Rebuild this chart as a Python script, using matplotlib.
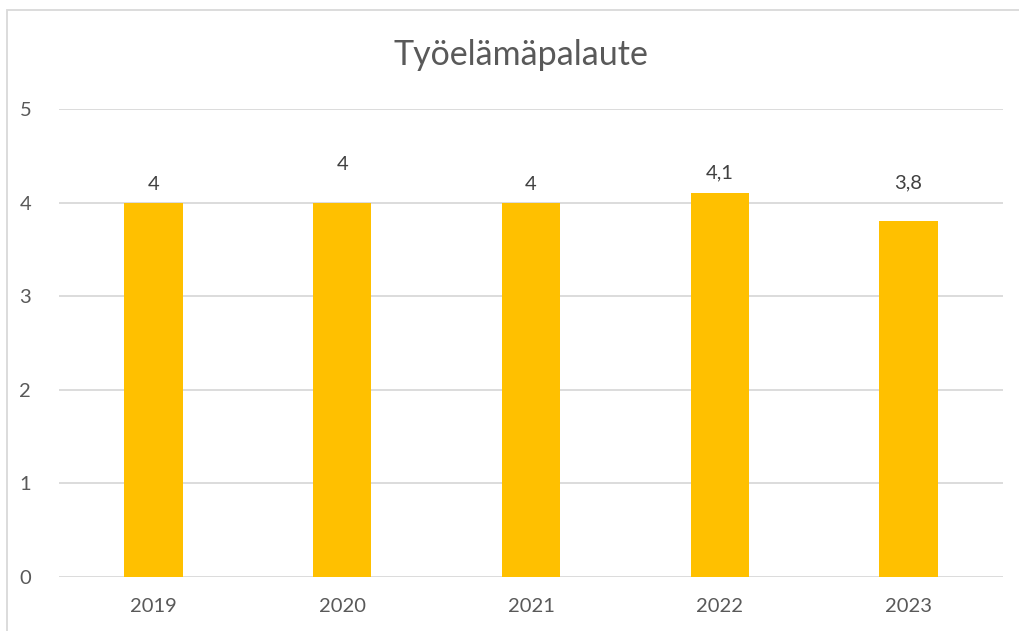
import matplotlib
matplotlib.use("Agg")
import matplotlib.pyplot as plt
from matplotlib.patches import Rectangle

years = ["2019", "2020", "2021", "2022", "2023"]
values = [4.0, 4.0, 4.0, 4.1, 3.8]
value_labels = ["4", "4", "4", "4,1", "3,8"]
label_offsets_px = [18, 38, 18, 20, 38]
yticks = [0, 1, 2, 3, 4, 5]

plt.rcParams['font.family'] = ['Lato', 'DejaVu Sans']
text_color = "#595959"
grid_color = "#D9D9D9"

fig = plt.figure(figsize=(10.19, 6.31), dpi=100)
W, H = 1019, 631
ax = fig.add_axes([59 / W, 1 - 577 / H, (1003 - 59) / W, (577 - 109) / H])

x = list(range(len(years)))
ax.bar(x, values, width=0.31, color="#FFC000", zorder=3)
ax.set_xlim(-0.5, len(years) - 0.5)
ax.set_ylim(0, 5)
ax.set_yticks(yticks)
ax.set_yticklabels([str(t) for t in yticks])
ax.set_xticks(x)
ax.set_xticklabels(years)
ax.grid(axis="y", color=grid_color, linewidth=1.3, zorder=0)
for s in ax.spines.values():
    s.set_visible(False)
ax.tick_params(length=0, labelsize=14.5, colors=text_color)
ax.tick_params(axis="y", pad=20)
ax.tick_params(axis="x", pad=15)

for xi, v, lab, off in zip(x, values, value_labels, label_offsets_px):
    ax.annotate(lab, (xi, v), xytext=(0, off * 0.72), textcoords="offset points",
                ha="center", va="center", fontsize=14.5, color="#404040")

fig.text(521 / W, 1 - 55 / H, "Työelämäpalaute", ha="center", va="center",
         fontsize=24.5, color=text_color)

fig.patches.append(Rectangle((7 / W, -0.1), 1.2, 1 - 10 / H + 0.1,
                             transform=fig.transFigure, fill=False,
                             edgecolor="#D9D9D9", linewidth=1.3))

fig.savefig("out.png", dpi=100)
